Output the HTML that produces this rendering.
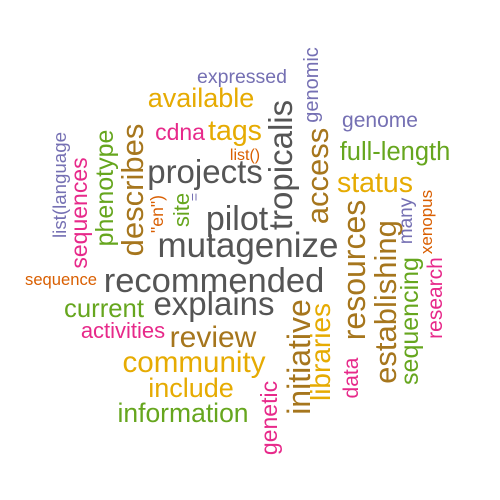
<!DOCTYPE html>
<html><head><meta charset="utf-8"><style>
html,body{margin:0;padding:0;background:#fff;width:500px;height:500px;overflow:hidden}
svg text{font-family:"Liberation Sans",Arial,sans-serif;text-anchor:middle}
</style></head><body>
<svg id="cloud" width="500" height="500" viewBox="0 0 500 500"></svg>
<script>
const words = ["expressed","available","genome","cdna","tags","list()","full-length","projects","status","pilot","mutagenize","recommended","sequence","explains","current","activities","review","community","include","information","genomic","tropicalis","access","describes","phenotype","sequences","list(language","\"en\")","site","=","resources","establishing","sequencing","many","xenopus","research","initiative","libraries","data","genetic"];
const sizes = [19.5,27,21,23,28.5,16,25.5,33,28.5,34,35,34.5,16.6,33,25.7,22,30,29.6,27,26.5,20,33,31,31,25,23,18.7,17.6,22,14,32,31,25,19,17,21,32,28,21,23];
const rotated = [0,0,0,0,0,0,0,0,0,0,0,0,0,0,0,0,0,0,0,0,1,1,1,1,1,1,1,1,1,1,1,1,1,1,1,1,1,1,1,1];
const colorIdx = [5,2,5,4,2,6,3,0,2,0,0,0,6,0,3,4,1,2,2,3,5,0,1,1,3,4,5,6,3,5,1,1,3,5,6,4,1,2,4,4];
const palette = ["#555555","#A6761D","#E6AB02","#66A61E","#E7298A","#7570B3","#D95F02"];
// anchor points (center along text direction, baseline)
const cx = [242,201,380,180,235,245,395,205,375,237,248,214,61,214,104,123,213,194,191,183,318,292,328,143,113,87,66,163,189,199,365,396,418,412,432,442,310,330,358,277];
const cy = [83,107,127,140,140,160,160,183,192,230,257,292,285,315,317,338,347,372,397,422,85,165,176,190,188,213,185,214,210,197,270,302,321,221,222,298,357,352,378,418];
const svg = document.getElementById('cloud');
for (let i = 0; i < words.length; i++) {
  const t = document.createElementNS('http://www.w3.org/2000/svg','text');
  t.setAttribute('x', cx[i]);
  t.setAttribute('y', cy[i]);
  if (rotated[i]) {
    t.setAttribute('x', 0); t.setAttribute('y', 0);
    t.setAttribute('transform', 'translate(' + cx[i] + ',' + cy[i] + ') rotate(-90)');
  }
  t.setAttribute('font-size', sizes[i]);
  t.setAttribute('fill', palette[colorIdx[i]]);
  t.textContent = words[i];
  
  
  svg.appendChild(t);
}
</script>
</body></html>
